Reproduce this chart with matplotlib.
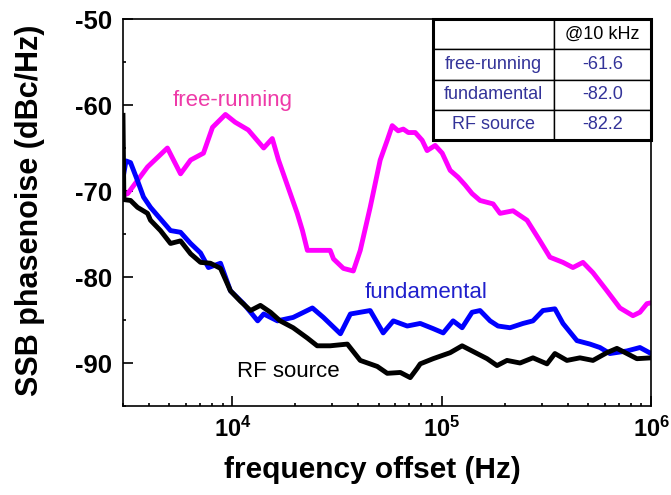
import matplotlib
matplotlib.use("Agg")
import matplotlib.pyplot as plt
from matplotlib.patches import Rectangle
from matplotlib.ticker import FixedLocator, LogLocator, NullFormatter

plt.rcParams["font.family"] = ["Liberation Sans", "DejaVu Sans"]
plt.rcParams["mathtext.fontset"] = "custom"
plt.rcParams["mathtext.bf"] = "Liberation Sans:bold"
plt.rcParams["mathtext.rm"] = "Liberation Sans"
plt.rcParams["axes.unicode_minus"] = False

# free-running laser
f_free = [3000, 3160, 3930, 4890, 5230, 5650, 6310, 7270, 8030, 9260, 10300,
          11900, 14100, 15500, 16600, 18900, 20400, 21600, 22800, 26300, 29300,
          30400, 33900, 37800, 40800, 45500, 50800, 54900, 58000, 61900, 65500,
          69200, 74700, 80600, 85100, 93000, 100500, 109700, 119700, 129300,
          139600, 152400, 175900, 189900, 219100, 255500, 294600, 328800,
          379400, 423300, 472700, 527700, 615300, 710000, 818800, 884700,
          955600, 1000000]
pn_free = [-70.5, -70.3, -67.2, -65.0, -66.4, -68.0, -66.4, -65.6, -62.6, -61.1,
           -62.0, -62.9, -65.0, -63.9, -66.4, -70.3, -72.6, -74.6, -76.9, -76.9,
           -76.9, -77.9, -79.0, -79.3, -76.9, -71.9, -66.4, -64.1, -62.4, -63.0,
           -62.8, -63.2, -63.2, -64.1, -65.3, -64.7, -65.6, -67.6, -68.4, -69.3,
           -70.3, -71.1, -71.5, -72.6, -72.3, -73.4, -75.8, -77.7, -78.3, -78.9,
           -78.3, -79.5, -81.6, -83.6, -84.5, -84.1, -83.1, -83.0]

# fundamental mode-locking
f_fund = [3000, 3100, 3260, 3520, 3760, 4060, 4440, 5060, 5650, 6310, 7040,
          7680, 8770, 9780, 11300, 13200, 14100, 16400, 19500, 24100, 27200,
          32800, 36600, 45500, 52500, 58700, 68400, 78900, 90900, 101600,
          113300, 125100, 139600, 152400, 170200, 185700, 211900, 244500,
          272700, 304300, 347200, 379400, 442400, 510500, 569700, 635900,
          766600, 884700, 1000000]
pn_fund = [-68.5, -66.5, -66.7, -68.8, -70.7, -71.9, -73.0, -74.6, -74.8, -76.1,
           -77.2, -78.9, -78.4, -81.6, -83.1, -85.1, -84.3, -85.1, -84.7, -83.6,
           -84.7, -86.6, -84.3, -83.9, -86.5, -85.1, -85.7, -85.4, -86.0, -86.5,
           -85.1, -85.9, -84.1, -83.9, -85.1, -85.7, -85.9, -85.4, -85.1, -83.9,
           -83.7, -85.4, -87.4, -87.8, -88.2, -88.9, -88.6, -88.2, -88.9]

# RF source
f_rf = [3000, 3030, 3260, 3520, 3930, 4060, 4530, 5060, 5650, 6310, 7040, 7850,
        8770, 9780, 10900, 12200, 13600, 15200, 16900, 19500, 22800, 25400,
        29300, 35400, 40800, 49200, 54900, 63400, 70700, 76400, 78900, 90900,
        109700, 125100, 147500, 164700, 183700, 205000, 236600, 272700,
        318200, 347200, 396300, 457300, 527700, 615300, 686700, 766600,
        855800, 1000000]
pn_rf = [-61.2, -71.0, -71.1, -71.9, -72.6, -73.4, -74.6, -76.1, -75.8, -77.3,
         -78.3, -78.4, -79.0, -81.6, -82.8, -83.9, -83.3, -84.1, -85.1, -85.9,
         -87.1, -88.0, -88.0, -87.8, -89.7, -90.4, -91.2, -91.1, -91.7, -90.6,
         -90.1, -89.5, -88.8, -88.0, -88.9, -89.5, -90.3, -89.7, -90.0, -89.4,
         -90.1, -88.9, -89.7, -89.4, -89.7, -88.8, -88.3, -88.9, -89.5, -89.4]

table_header = ["", "@10 kHz"]
table_rows = ["free-running", "fundamental", "RF source"]
table_vals = ["-61.6", "-82.0", "-82.2"]

fig = plt.figure(figsize=(6.71, 4.95), dpi=100)
ax = fig.add_axes([0.1833, 0.1798, 0.7870, 0.7818])

ax.plot(f_free, pn_free, color="#ff00ff", lw=3.5, solid_joinstyle="round")
ax.plot(f_fund, pn_fund, color="#0000ff", lw=3.5, solid_joinstyle="round")
ax.plot(f_rf, pn_rf, color="black", lw=3.5, solid_joinstyle="round")

ax.set_xscale("log")
ax.set_xlim(3000, 1e6)
ax.set_ylim(-95, -50)

ax.xaxis.set_major_locator(FixedLocator([1e4, 1e5, 1e6]))
ax.set_xticklabels([r"$\mathbf{10^{4}}$", r"$\mathbf{10^{5}}$", r"$\mathbf{10^{6}}$"])
ax.xaxis.set_minor_locator(LogLocator(base=10, subs=range(2, 10)))
ax.xaxis.set_minor_formatter(NullFormatter())
ax.set_yticks([-90, -80, -70, -60, -50])
ax.set_yticks([-95, -85, -75, -65, -55], minor=True)

ax.tick_params(which="both", direction="in", top=False, right=False, width=1.2)
ax.tick_params(which="major", length=7, pad=8)
ax.tick_params(axis="x", which="major", labelsize=17)
ax.tick_params(axis="y", which="major", labelsize=18.5)
for lab in ax.get_yticklabels():
    lab.set_fontweight("bold")
for sp in ax.spines.values():
    sp.set_linewidth(1.2)

ax.set_xlabel("frequency offset (Hz)", fontsize=21.5, fontweight="bold")
ax.set_ylabel("SSB phasenoise (dBc/Hz)", fontsize=22, fontweight="bold")
ax.xaxis.set_label_coords(0.472, -0.13)
ax.yaxis.set_label_coords(-0.148, 0.505)

ax.text(1.0e4, -60.1, "free-running", color="#ee3aa8", fontsize=16, ha="center")
ax.text(8.4e4, -82.4, "fundamental", color="#2020cc", fontsize=16, ha="center")
ax.text(1.85e4, -91.6, "RF source", color="black", fontsize=16, ha="center")

cells = [table_header] + [[r, v] for r, v in zip(table_rows, table_vals)]
tbl = ax.table(cellText=cells, bbox=[0.587, 0.687, 0.413, 0.313],
               colWidths=[0.229, 0.184], cellLoc="center")
tbl.auto_set_font_size(False)
for (r, c), cell in tbl.get_celld().items():
    cell.set_linewidth(1.0)
    cell.set_facecolor("white")
    cell.get_text().set_fontsize(13)
    cell.get_text().set_color("black" if r == 0 else "#333399")
ax.add_patch(Rectangle((0.587, 0.687), 0.413, 0.313, transform=ax.transAxes,
                       fill=False, lw=2.2, ec="black", zorder=10, clip_on=False))

fig.savefig("out.png", dpi=100)
